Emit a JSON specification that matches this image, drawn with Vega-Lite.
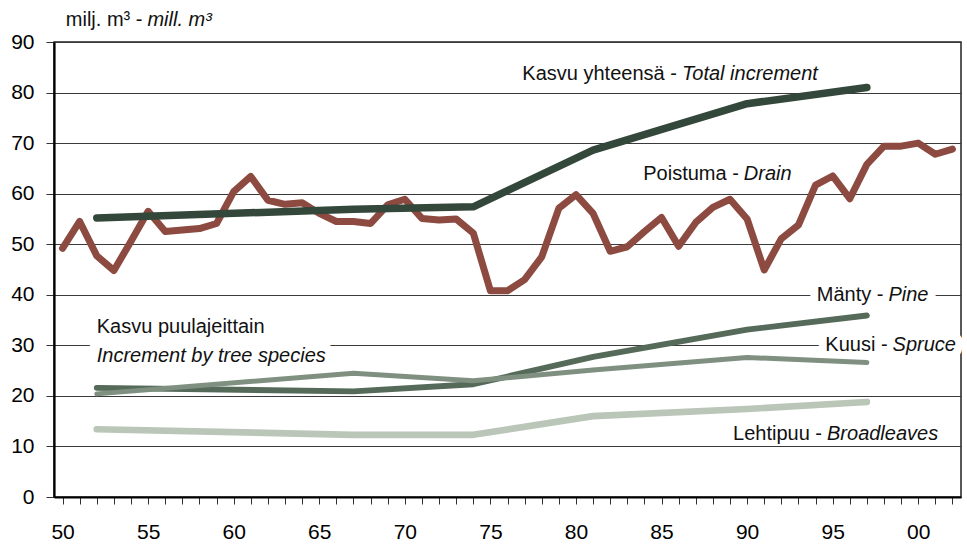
{
  "$schema": "https://vega.github.io/schema/vega-lite/v6.json",
  "width": 907,
  "height": 455,
  "autosize": "none",
  "padding": {"left": 54, "top": 42, "right": 6, "bottom": 50},
  "config": {
    "font": "Liberation Sans",
    "view": {"stroke": "#222", "strokeWidth": 1.5},
    "axis": {"labelFont": "Liberation Sans", "labelColor": "#000", "labelFontSize": 21, "title": null, "domainColor": "#000", "domainWidth": 2.2, "tickColor": "#333", "tickWidth": 1},
    "axisX": {"labelOverlap": false, "labelFlush": false, "labelBound": false}
  },
  "datasets": {
    "drain": [
      {"year": 1950, "value": 49.2}, {"year": 1951, "value": 54.5}, {"year": 1952, "value": 47.7}, {"year": 1953, "value": 44.8},
      {"year": 1954, "value": 50.6}, {"year": 1955, "value": 56.5}, {"year": 1956, "value": 52.5}, {"year": 1957, "value": 52.8},
      {"year": 1958, "value": 53.1}, {"year": 1959, "value": 54.1}, {"year": 1960, "value": 60.4}, {"year": 1961, "value": 63.4},
      {"year": 1962, "value": 58.7}, {"year": 1963, "value": 57.9}, {"year": 1964, "value": 58.2}, {"year": 1965, "value": 56.1},
      {"year": 1966, "value": 54.5}, {"year": 1967, "value": 54.5}, {"year": 1968, "value": 54.1}, {"year": 1969, "value": 57.8},
      {"year": 1970, "value": 58.9}, {"year": 1971, "value": 55.1}, {"year": 1972, "value": 54.8}, {"year": 1973, "value": 55.0},
      {"year": 1974, "value": 52.2}, {"year": 1975, "value": 40.8}, {"year": 1976, "value": 40.8}, {"year": 1977, "value": 43.0},
      {"year": 1978, "value": 47.5}, {"year": 1979, "value": 57.1}, {"year": 1980, "value": 59.8}, {"year": 1981, "value": 56.1},
      {"year": 1982, "value": 48.6}, {"year": 1983, "value": 49.5}, {"year": 1984, "value": 52.5}, {"year": 1985, "value": 55.3},
      {"year": 1986, "value": 49.6}, {"year": 1987, "value": 54.3}, {"year": 1988, "value": 57.3}, {"year": 1989, "value": 58.9},
      {"year": 1990, "value": 55.0}, {"year": 1991, "value": 44.9}, {"year": 1992, "value": 51.1}, {"year": 1993, "value": 53.8},
      {"year": 1994, "value": 61.7}, {"year": 1995, "value": 63.5}, {"year": 1996, "value": 59.0}, {"year": 1997, "value": 65.8},
      {"year": 1998, "value": 69.4}, {"year": 1999, "value": 69.4}, {"year": 2000, "value": 70.0}, {"year": 2001, "value": 67.8},
      {"year": 2002, "value": 68.8}
    ],
    "increment": [
      {"series": "total", "year": 1952, "value": 55.2}, {"series": "total", "year": 1967, "value": 56.9}, {"series": "total", "year": 1974, "value": 57.4},
      {"series": "total", "year": 1981, "value": 68.6}, {"series": "total", "year": 1990, "value": 77.8}, {"series": "total", "year": 1997, "value": 81.0},
      {"series": "broadleaves", "year": 1952, "value": 13.4}, {"series": "broadleaves", "year": 1967, "value": 12.3}, {"series": "broadleaves", "year": 1974, "value": 12.3},
      {"series": "broadleaves", "year": 1981, "value": 16.0}, {"series": "broadleaves", "year": 1990, "value": 17.4}, {"series": "broadleaves", "year": 1997, "value": 18.8},
      {"series": "pine", "year": 1952, "value": 21.6}, {"series": "pine", "year": 1967, "value": 20.9}, {"series": "pine", "year": 1974, "value": 22.3},
      {"series": "pine", "year": 1981, "value": 27.7}, {"series": "pine", "year": 1990, "value": 33.1}, {"series": "pine", "year": 1997, "value": 35.9},
      {"series": "spruce", "year": 1952, "value": 20.4}, {"series": "spruce", "year": 1967, "value": 24.5}, {"series": "spruce", "year": 1974, "value": 23.0},
      {"series": "spruce", "year": 1981, "value": 25.1}, {"series": "spruce", "year": 1990, "value": 27.6}, {"series": "spruce", "year": 1997, "value": 26.6}
    ],
    "labels": [
      {"key": "unit", "year": 1954.96, "value": 93.2, "fi": "milj. m³ -", "en": "mill. m³"},
      {"key": "total", "year": 1986.19, "value": 82.5, "fi": "Kasvu yhteensä -", "en": "Total increment"},
      {"key": "drain", "year": 1989.81, "value": 62.7, "fi": "Poistuma -", "en": "Drain"},
      {"key": "pine", "year": 1998.26, "value": 38.7, "fi": "Mänty -", "en": "Pine"},
      {"key": "spruce", "year": 1998.5, "value": 28.9, "fi": "Kuusi -", "en": "Spruce"},
      {"key": "broadleaves", "year": 1994.67, "value": 11.2, "fi": "Lehtipuu -", "en": "Broadleaves"}
    ],
    "blocklabel": [
      {"year": 1952.0, "value": 32.4, "text": "Kasvu puulajeittain", "lang": "fi"},
      {"year": 1952.0, "value": 26.7, "text": "Increment by tree species", "lang": "en"}
    ]
  },
  "encoding": {
    "x": {"field": "year", "type": "quantitative", "scale": {"domain": [1949.5, 2002.5], "nice": false, "zero": false},
      "axis": {"values": [1950,1951,1952,1953,1954,1955,1956,1957,1958,1959,1960,1961,1962,1963,1964,1965,1966,1967,1968,1969,1970,1971,1972,1973,1974,1975,1976,1977,1978,1979,1980,1981,1982,1983,1984,1985,1986,1987,1988,1989,1990,1991,1992,1993,1994,1995,1996,1997,1998,1999,2000,2001,2002],
        "labelExpr": "datum.value % 5 === 0 ? slice(toString(datum.value), 2) : ''", "labelOverlap": false, "labelFlush": false, "tickSize": 7, "labelPadding": 17, "grid": false}},
    "y": {"field": "value", "type": "quantitative", "scale": {"domain": [0, 90], "nice": false},
      "axis": {"values": [0,10,20,30,40,50,60,70,80,90], "tickSize": 8, "labelPadding": 12, "grid": true, "gridColor": "#3a3a3a", "gridWidth": 1}}
  },
  "layer": [
    {
      "data": {"name": "labels"},
      "transform": [{"filter": "datum.key === 'pine' || datum.key === 'spruce'"}],
      "mark": {"type": "text", "align": "right", "baseline": "alphabetic", "dx": -5, "fontSize": 20, "fill": "white", "stroke": "white", "strokeWidth": 16, "strokeJoin": "round"},
      "encoding": {"text": {"field": "fi"}}
    },
    {
      "data": {"name": "labels"},
      "transform": [{"filter": "datum.key === 'pine' || datum.key === 'spruce'"}],
      "mark": {"type": "text", "align": "left", "baseline": "alphabetic", "fontStyle": "italic", "fontSize": 20, "fill": "white", "stroke": "white", "strokeWidth": 16, "strokeJoin": "round"},
      "encoding": {"text": {"field": "en"}}
    },
    {
      "data": {"name": "blocklabel"},
      "mark": {"type": "text", "align": "left", "baseline": "alphabetic", "fontSize": 20, "fill": "white", "stroke": "white", "strokeWidth": 18, "strokeJoin": "round"},
      "encoding": {"text": {"field": "text"}}
    },
    {
      "data": {"name": "drain"},
      "mark": {"type": "line", "color": "#8C4A41", "strokeWidth": 7, "strokeCap": "round", "strokeJoin": "round"},
      "encoding": {}
    },
    {
      "data": {"name": "increment"},
      "mark": {"type": "line", "strokeCap": "round", "strokeJoin": "round"},
      "encoding": {
        "color": {"field": "series", "type": "nominal", "legend": null,
          "scale": {"domain": ["total", "broadleaves", "pine", "spruce"], "range": ["#33473A", "#BAC6B8", "#556A59", "#7F9080"]}},
        "strokeWidth": {"field": "series", "type": "nominal", "legend": null,
          "scale": {"domain": ["total", "broadleaves", "pine", "spruce"], "range": [7.5, 5, 5, 5]}},
        "order": {"field": "year", "type": "quantitative"}
      }
    },
    {
      "data": {"name": "labels"},
      "mark": {"type": "text", "align": "right", "baseline": "alphabetic", "dx": -5, "fontSize": 20, "color": "#111"},
      "encoding": {"text": {"field": "fi"}}
    },
    {
      "data": {"name": "labels"},
      "mark": {"type": "text", "align": "left", "baseline": "alphabetic", "fontStyle": "italic", "fontSize": 20, "color": "#111"},
      "encoding": {"text": {"field": "en"}}
    },
    {
      "data": {"name": "blocklabel"},
      "transform": [{"filter": "datum.lang === 'fi'"}],
      "mark": {"type": "text", "align": "left", "baseline": "alphabetic", "fontSize": 20, "color": "#111"},
      "encoding": {"text": {"field": "text"}}
    },
    {
      "data": {"name": "blocklabel"},
      "transform": [{"filter": "datum.lang === 'en'"}],
      "mark": {"type": "text", "align": "left", "baseline": "alphabetic", "fontStyle": "italic", "fontSize": 20, "color": "#111"},
      "encoding": {"text": {"field": "text"}}
    }
  ]
}
